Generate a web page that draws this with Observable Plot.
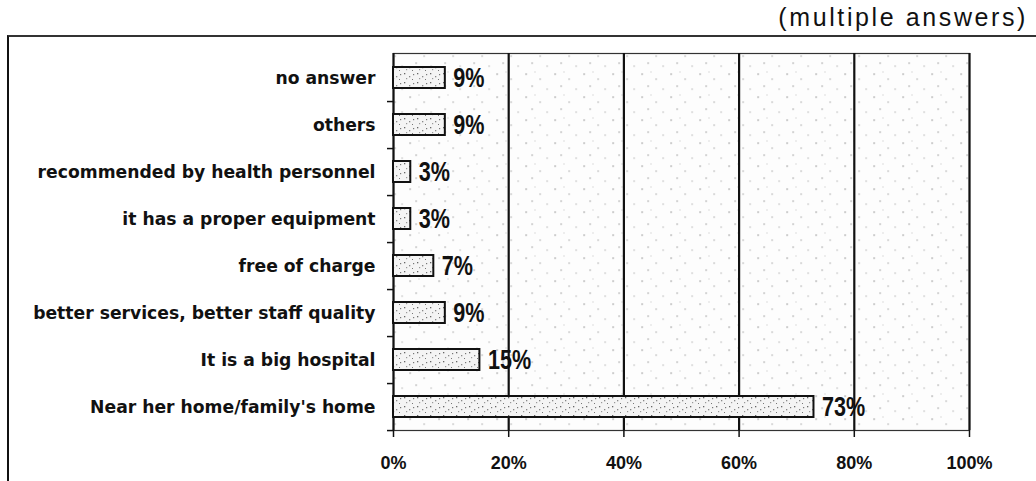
<!DOCTYPE html>
<html>
<head>
<meta charset="utf-8">
<script src="https://cdn.jsdelivr.net/npm/d3@7"></script>
<script src="https://cdn.jsdelivr.net/npm/@observablehq/plot@0.6"></script>
<style>
  html, body { margin: 0; padding: 0; background: #fff; }
  #wrap { position: relative; width: 1036px; height: 481px; overflow: hidden; }
  #box { position: absolute; left: 7px; top: 35px; width: 1040px; height: 460px;
         border-top: 2px solid #333; border-left: 2px solid #111; }
  #title { position: absolute; right: 8px; top: 3px; font-family: "Liberation Sans", Arial, sans-serif;
           font-size: 25px; letter-spacing: 2.6px; color: #111; }
  #chart { position: absolute; left: 0; top: 0; }
</style>
</head>
<body>
<div id="wrap">
  <div id="box"></div>
  <div id="title">(multiple answers)</div>
  <div id="chart"></div>
</div>
<script>
const categories = [
  "no answer",
  "others",
  "recommended by health personnel",
  "it has a proper equipment",
  "free of charge",
  "better services, better staff quality",
  "It is a big hospital",
  "Near her home/family's home"
];
const values = [9, 9, 3, 3, 7, 9, 15, 73];
const xTicks = [0, 20, 40, 60, 80, 100];

const data = categories.map((c, i) => ({category: c, value: values[i]}));

const H = 481, MT = 53, MB = 51;
const step = (H - MT - MB) / categories.length;

const chart = Plot.plot({
  width: 1036,
  height: H,
  marginLeft: 393,
  marginRight: 67,
  marginTop: MT,
  marginBottom: MB,
  style: {fontFamily: "'Liberation Sans', Arial, sans-serif", background: "transparent", color: "#111"},
  x: {domain: [0, 100]},
  y: {domain: categories, padding: 0},
  marks: [
    Plot.frame({fill: "url(#bgdots)", stroke: "#333", strokeWidth: 1.2}),
    Plot.ruleX(xTicks, {stroke: "#111", strokeWidth: 2.2}),
    Plot.barX(data, {x: "value", y: "category", fill: "url(#bardots)", stroke: "#111", strokeWidth: 2, insetTop: 13, insetBottom: 13}),
    Plot.text(data, {x: "value", y: "category", text: d => d.value + "%", dx: 8, textAnchor: "start",
      fontSize: 27, fontWeight: "bold", fill: "#111", className: "vlab"}),
    Plot.axisX(xTicks, {tickFormat: d => d + "%", tickSize: 7, tickPadding: 19, fontSize: 18, fontWeight: "bold", label: null, strokeWidth: 1.5}),
    Plot.axisY({tickSize: 0, tickPadding: 18, fontSize: 17.2, fontWeight: "bold", fontFamily: "'DejaVu Sans', sans-serif", label: null}),
    Plot.axisY({tickSize: 6, text: null, dy: step / 2, label: null, strokeWidth: 1.5})
  ]
});

// narrow the value labels horizontally around their anchor
chart.querySelectorAll(".vlab text").forEach(t => {
  const tr = t.getAttribute("transform") || "";
  t.setAttribute("transform", tr + " scale(0.8,1)");
});

// texture patterns (style only)
const ns = "http://www.w3.org/2000/svg";
const defs = document.createElementNS(ns, "defs");
defs.innerHTML = `
  <pattern id="bgdots" width="29" height="23" patternUnits="userSpaceOnUse">
    <rect width="29" height="23" fill="#fdfdfd"/>
    <rect x="3" y="4" width="1.2" height="1.2" fill="#777"/>
    <rect x="17" y="9" width="1.2" height="1.2" fill="#999"/>
    <rect x="9" y="16" width="1.2" height="1.2" fill="#888"/>
    <rect x="24" y="19" width="1.2" height="1.2" fill="#aaa"/>
    <rect x="12" y="2" width="1" height="1" fill="#bbb"/>
  </pattern>
  <pattern id="bardots" width="13" height="9" patternUnits="userSpaceOnUse">
    <rect width="13" height="9" fill="#f4f4f4"/>
    <rect x="1" y="1" width="1.3" height="1.3" fill="#666"/>
    <rect x="6" y="4" width="1.3" height="1.3" fill="#888"/>
    <rect x="10" y="2" width="1.2" height="1.2" fill="#777"/>
    <rect x="3" y="6" width="1.2" height="1.2" fill="#999"/>
    <rect x="9" y="7" width="1" height="1" fill="#777"/>
  </pattern>`;
chart.insertBefore(defs, chart.firstChild);
document.getElementById("chart").appendChild(chart);
</script>
</body>
</html>
